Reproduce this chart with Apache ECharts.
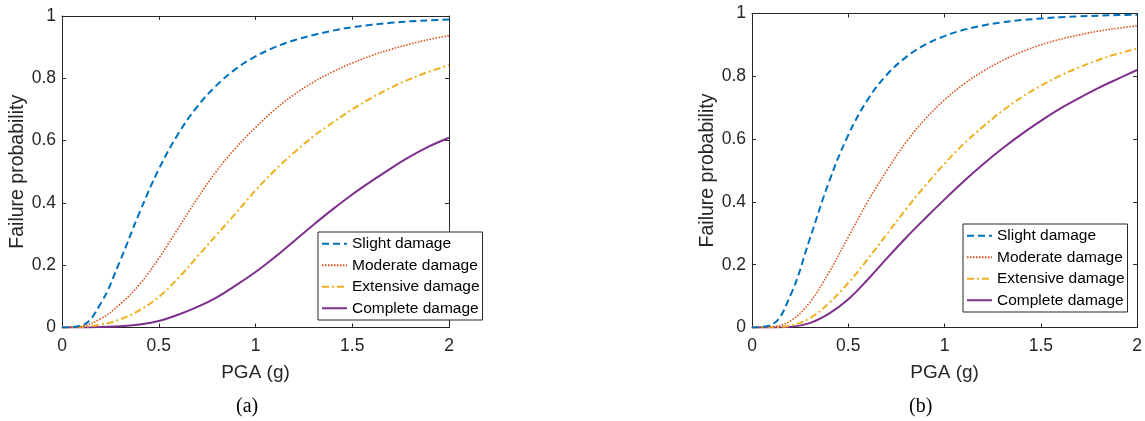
<!DOCTYPE html>
<html>
<head>
<meta charset="utf-8">
<script src="https://cdn.jsdelivr.net/npm/echarts@6/dist/echarts.min.js"></script>
<style>
  html, body { margin: 0; padding: 0; background: #ffffff; }
  #chart { width: 1145px; height: 421px; }
</style>
</head>
<body>
<div id="chart"></div>
<script>
// ---- data ----
const pga = [0, 0.1, 0.2, 0.3, 0.4, 0.5, 0.6, 0.7, 0.8, 0.9, 1.0, 1.1, 1.2, 1.3, 1.4, 1.5, 1.6, 1.7, 1.8, 1.9, 2.0];
const seriesNames = ['Slight damage', 'Moderate damage', 'Extensive damage', 'Complete damage'];

// (a)
const slightA    = [0, 0.006, 0.077, 0.214, 0.368, 0.508, 0.621, 0.710, 0.778, 0.831, 0.870, 0.900, 0.922, 0.939, 0.953, 0.964, 0.972, 0.978, 0.983, 0.986, 0.989];
const moderateA  = [0, 0.004, 0.028, 0.075, 0.138, 0.222, 0.318, 0.415, 0.503, 0.578, 0.642, 0.700, 0.748, 0.788, 0.821, 0.849, 0.873, 0.893, 0.910, 0.925, 0.937];
const extensiveA = [0, 0.002, 0.009, 0.026, 0.055, 0.098, 0.158, 0.228, 0.298, 0.368, 0.440, 0.505, 0.562, 0.614, 0.658, 0.700, 0.737, 0.770, 0.798, 0.822, 0.842];
const completeA  = [0, 0.000, 0.002, 0.004, 0.010, 0.021, 0.041, 0.066, 0.097, 0.136, 0.178, 0.226, 0.278, 0.330, 0.380, 0.427, 0.470, 0.511, 0.549, 0.582, 0.609];

// (b)
const slightB    = [0, 0.008, 0.103, 0.282, 0.464, 0.613, 0.725, 0.805, 0.861, 0.901, 0.928, 0.948, 0.962, 0.972, 0.979, 0.984, 0.988, 0.991, 0.993, 0.995, 0.996];
const moderateB  = [0, 0.002, 0.021, 0.080, 0.176, 0.288, 0.400, 0.500, 0.590, 0.664, 0.725, 0.775, 0.816, 0.850, 0.878, 0.900, 0.918, 0.932, 0.944, 0.953, 0.961];
const extensiveB = [0, 0.001, 0.006, 0.030, 0.078, 0.142, 0.217, 0.297, 0.377, 0.452, 0.522, 0.585, 0.640, 0.690, 0.733, 0.770, 0.802, 0.829, 0.852, 0.872, 0.888];
const completeB  = [0, 0.000, 0.002, 0.014, 0.044, 0.090, 0.152, 0.220, 0.286, 0.348, 0.408, 0.466, 0.520, 0.570, 0.616, 0.658, 0.697, 0.731, 0.763, 0.792, 0.820];

const xTickLabels = ['0', '0.5', '1', '1.5', '2'];
const yTickLabels = ['0', '0.2', '0.4', '0.6', '0.8', '1'];
const xLabel = 'PGA (g)';
const yLabel = 'Failure probability';
const captions = ['(a)', '(b)'];

// ---- styles ----
const AX = '#262626';
const FONT = "'Liberation Sans', Arial, sans-serif";
const styles = [
  { color: '#0072BD', type: [7, 4], width: 2 },
  { color: '#D95319', type: [1.5, 1.5], width: 1.6 },
  { color: '#EDB120', type: [7, 3, 2, 3], width: 2 },
  { color: '#7E2F8E', type: 'solid', width: 2 }
];

function pairs(ys) { return pga.map((x, i) => [x, ys[i]]); }

function xLabelFmt(v) {
  const idx = Math.round(v / 0.5);
  return xTickLabels[idx] !== undefined ? xTickLabels[idx] : '';
}
function yLabelFmt(v) {
  const idx = Math.round(v / 0.2);
  return yTickLabels[idx] !== undefined ? yTickLabels[idx] : '';
}

const grids = [
  { left: 62, top: 16, width: 387, height: 311.5 },
  { left: 752, top: 13.5, width: 390, height: 314 }
];

const xAxes = [], yAxes = [];
grids.forEach((g, gi) => {
  xAxes.push({
    type: 'value', gridIndex: gi, position: 'bottom', min: 0, max: 2, interval: 0.5,
    name: xLabel, nameLocation: 'middle', nameGap: 36,
    nameTextStyle: { fontFamily: FONT, fontSize: 19, color: AX },
    axisLine: { show: true, onZero: false, lineStyle: { color: AX, width: 1 } },
    axisTick: { show: true, inside: true, length: 4, lineStyle: { color: AX } },
    axisLabel: { show: true, margin: 10, fontFamily: FONT, fontSize: 17.5, color: AX, formatter: xLabelFmt },
    splitLine: { show: false }
  });
  xAxes.push({
    type: 'value', gridIndex: gi, position: 'top', min: 0, max: 2, interval: 0.5,
    axisLine: { show: true, onZero: false, lineStyle: { color: AX, width: 1 } },
    axisTick: { show: true, inside: true, length: 4, lineStyle: { color: AX } },
    axisLabel: { show: false }, splitLine: { show: false }
  });
  yAxes.push({
    type: 'value', gridIndex: gi, position: 'left', min: 0, max: 1, interval: 0.2,
    name: yLabel, nameLocation: 'middle', nameGap: 34,
    nameTextStyle: { fontFamily: FONT, fontSize: 19.5, color: AX },
    axisLine: { show: true, onZero: false, lineStyle: { color: AX, width: 1 } },
    axisTick: { show: true, inside: true, length: 4, lineStyle: { color: AX } },
    axisLabel: { show: true, margin: 6, fontFamily: FONT, fontSize: 17.5, color: AX, formatter: yLabelFmt },
    splitLine: { show: false }
  });
  yAxes.push({
    type: 'value', gridIndex: gi, position: 'right', min: 0, max: 1, interval: 0.2,
    axisLine: { show: true, onZero: false, lineStyle: { color: AX, width: 1 } },
    axisTick: { show: true, inside: true, length: 4, lineStyle: { color: AX } },
    axisLabel: { show: false }, splitLine: { show: false }
  });
});

const dataSets = [
  [slightA, moderateA, extensiveA, completeA],
  [slightB, moderateB, extensiveB, completeB]
];

const series = [];
dataSets.forEach((set, gi) => {
  set.forEach((ys, si) => {
    series.push({
      name: seriesNames[si], type: 'line',
      xAxisIndex: gi * 2, yAxisIndex: gi * 2,
      data: pairs(ys),
      smooth: 0.4,
      symbol: 'none', showSymbol: false,
      lineStyle: { color: styles[si].color, type: styles[si].type, width: styles[si].width },
      itemStyle: { color: styles[si].color },
      z: 10 - si
    });
  });
});

function legendAt(left, top) {
  return {
    data: seriesNames, orient: 'vertical', left: left, top: top,
    itemWidth: 25, itemHeight: 10, itemGap: 0,
    padding: [1, 3, 1, 3],
    backgroundColor: '#ffffff', borderColor: AX, borderWidth: 1,
    itemStyle: { color: 'rgba(0,0,0,0)', borderWidth: 0, opacity: 0 },
    textStyle: { fontFamily: FONT, fontSize: 15.5, color: '#000000', lineHeight: 21.5 },
    selectedMode: false
  };
}

const option = {
  animation: false,
  backgroundColor: '#ffffff',
  grid: grids,
  xAxis: xAxes,
  yAxis: yAxes,
  legend: [legendAt(318, 232), legendAt(963, 224)],
  series: series,
  graphic: [
    { type: 'text', left: 236, top: 397, style: { text: captions[0], font: "20px 'Liberation Serif', 'Times New Roman', serif", fill: '#000' } },
    { type: 'text', left: 909, top: 397, style: { text: captions[1], font: "20px 'Liberation Serif', 'Times New Roman', serif", fill: '#000' } }
  ]
};

const chart = echarts.init(document.getElementById('chart'), null, { renderer: 'canvas' });
chart.setOption(option);
</script>
</body>
</html>
